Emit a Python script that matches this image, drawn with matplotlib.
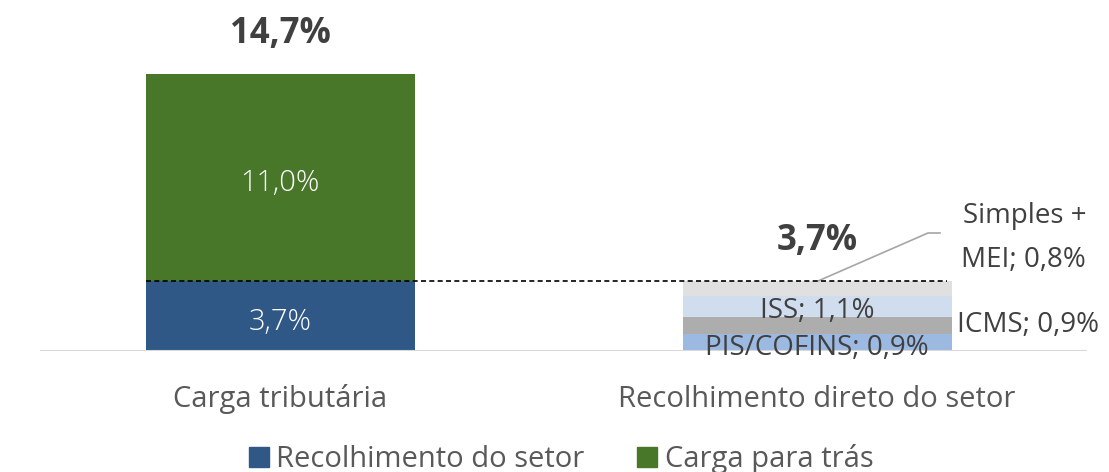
import matplotlib
matplotlib.use("Agg")
import matplotlib.pyplot as plt
from matplotlib.patches import Patch

categories = ["Carga tributária", "Recolhimento direto do setor"]
recolhimento = 3.7
carga_para_tras = 11.0
total = 14.7
componentes = ["PIS/COFINS", "ICMS", "ISS", "Simples +\nMEI"]
comp_values = [0.9, 0.9, 1.1, 0.8]
comp_colors = ["#9cb9e1", "#adadad", "#d0ddee", "#e0e0e0"]
legend_labels = ["Recolhimento do setor", "Carga para trás"]

plt.rcParams['font.family'] = ['Open Sans', 'DejaVu Sans']

W, H = 1109, 472
fig = plt.figure(figsize=(W / 100, H / 100), dpi=100)
ax_left, ax_right = 40, 1087
ax_bottom, ax_top = 351, 20
ax = fig.add_axes([ax_left / W, (H - ax_bottom) / H, (ax_right - ax_left) / W, (ax_bottom - ax_top) / H])

px_per_unit = (351 - 74) / total
ax.set_ylim(0, (ax_bottom - ax_top) / px_per_unit)
unit = 817 - 280
ax.set_xlim(-(280 - ax_left) / unit, 1 + (ax_right - 817) / unit)
bw = 269 / unit


def py(ypx):
    return (ax_bottom - ypx) / px_per_unit


def px(xpx):
    return (xpx - 280) / unit


blue = "#2f5886"
green = "#48772a"
ax.bar(0, recolhimento, width=bw, color=blue)
ax.bar(0, carga_para_tras, width=bw, bottom=recolhimento, color=green)

bottom = 0
for v, c in zip(comp_values, comp_colors):
    ax.bar(1, v, width=bw, bottom=bottom, color=c)
    bottom += v


def fmt(v):
    return f"{v:.1f}%".replace(".", ",")


txt = dict(ha="center", va="baseline", clip_on=False)
ax.text(0, py(330), fmt(recolhimento), color="white", fontsize=21, fontweight="light", **txt)
ax.text(0, py(191), fmt(carga_para_tras), color="white", fontsize=21, fontweight="light", **txt)
ax.text(0, py(43), fmt(total), color="#404040", fontsize=25, fontweight="bold", **txt)
ax.text(1, py(250), fmt(sum(comp_values)), color="#404040", fontsize=25, fontweight="bold", **txt)

lab_col = "#404040"
ax.text(1, py(355), f"{componentes[0]}; {fmt(comp_values[0])}", color=lab_col, fontsize=20, **txt)
ax.text(1, py(318), f"{componentes[2]}; {fmt(comp_values[2])}", color=lab_col, fontsize=20, **txt)
ax.text(px(957), py(332), f"{componentes[1]}; {fmt(comp_values[1])}", color=lab_col, fontsize=20,
        ha="left", va="baseline", clip_on=False)
line1, line2 = componentes[3].split("\n")
ax.text(px(1025), py(223), line1, color=lab_col, fontsize=20, **txt)
ax.text(px(1023), py(267), f"{line2}; {fmt(comp_values[3])}", color=lab_col, fontsize=20, **txt)

# leader line
ax.plot([px(818), px(928), px(940)], [py(281), py(233), py(233)], color="#a6a6a6", lw=1.2)

# dashed reference line
ax.plot([-bw / 2, px(947)], [recolhimento, recolhimento], color="black", lw=1.2, ls=(0, (3, 2)))

ax.axhline(0, color="#d9d9d9", lw=1.5)
for s in ax.spines.values():
    s.set_visible(False)
ax.set_yticks([])
ax.set_xticks([])
for i, cat in enumerate(categories):
    ax.text(i, py(407), cat, color="#595959", fontsize=21, **txt)

handles = [Patch(color=blue), Patch(color=green)]
fig.legend(handles, legend_labels, loc="center", bbox_to_anchor=(561 / W, 1 - 459 / H), ncol=2, frameon=False,
           fontsize=21, labelcolor="#595959", handlelength=0.7, handleheight=0.7, handletextpad=0.25,
           columnspacing=1.8, borderpad=0, borderaxespad=0)

fig.savefig("out.png", dpi=100)
